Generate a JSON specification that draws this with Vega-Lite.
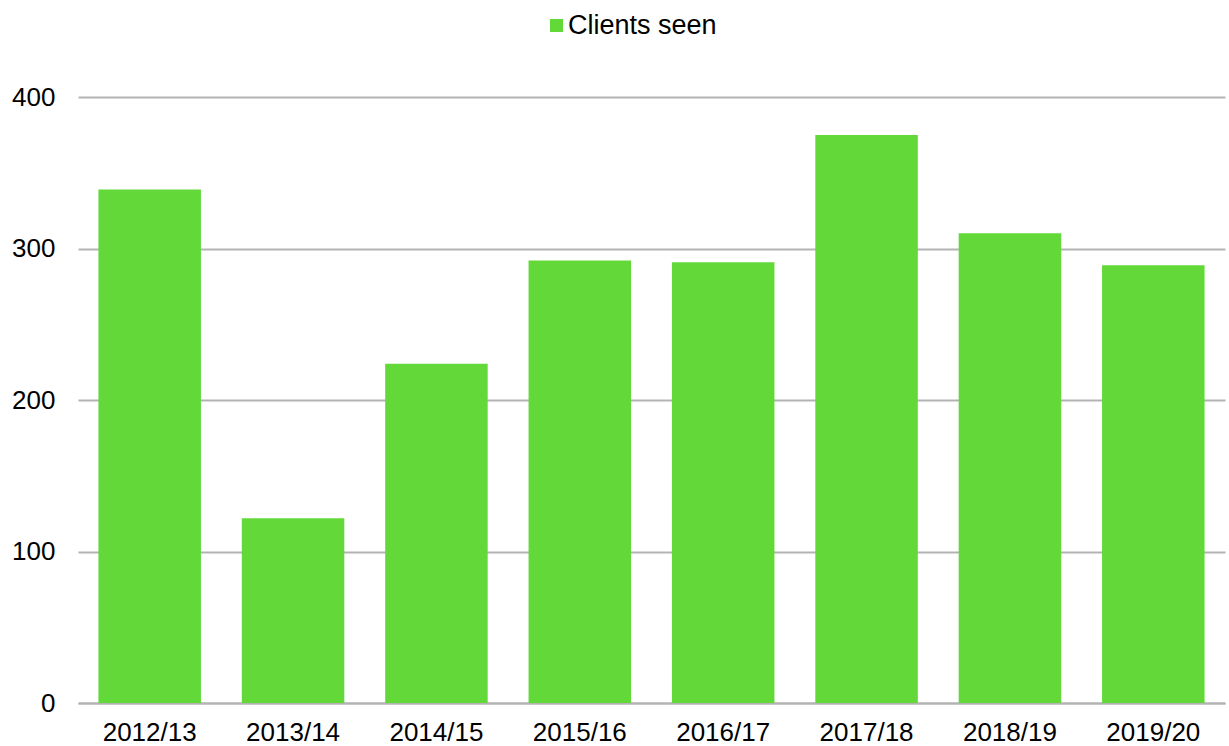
{
  "$schema": "https://vega.github.io/schema/vega-lite/v6.json",
  "autosize": {"type": "none"},
  "width": 1147,
  "height": 606,
  "padding": {"left": 78, "top": 97, "right": 4, "bottom": 43},
  "background": "white",
  "config": {
    "view": {"stroke": null},
    "font": "Liberation Sans"
  },
  "data": {
    "values": [
      {"year": "2012/13", "series": "Clients seen", "value": 339},
      {"year": "2013/14", "series": "Clients seen", "value": 122},
      {"year": "2014/15", "series": "Clients seen", "value": 224},
      {"year": "2015/16", "series": "Clients seen", "value": 292},
      {"year": "2016/17", "series": "Clients seen", "value": 291},
      {"year": "2017/18", "series": "Clients seen", "value": 375},
      {"year": "2018/19", "series": "Clients seen", "value": 310},
      {"year": "2019/20", "series": "Clients seen", "value": 289}
    ]
  },
  "mark": {"type": "bar"},
  "encoding": {
    "x": {
      "field": "year", "type": "nominal", "sort": null,
      "scale": {"paddingInner": 0.285, "paddingOuter": 0.1425},
      "axis": {"title": null, "labelAngle": 0, "ticks": false, "domain": true, "domainColor": "#b3b3b3", "domainWidth": 2, "labelPadding": 16, "labelBaseline": "top", "grid": false, "labelFont": "Liberation Sans", "labelFontSize": 26, "labelColor": "#000000"}
    },
    "y": {
      "field": "value", "type": "quantitative",
      "scale": {"domain": [0, 400], "nice": false},
      "axis": {"title": null, "values": [0, 100, 200, 300, 400], "ticks": false, "domain": false, "grid": true, "gridColor": "#b3b3b3", "gridWidth": 2, "labelPadding": 23, "labelFont": "Liberation Sans", "labelFontSize": 26, "labelColor": "#000000"}
    },
    "color": {
      "field": "series", "type": "nominal",
      "scale": {"range": ["#62d939"]},
      "legend": {
        "title": null, "orient": "none", "legendX": 465, "legendY": -85, "padding": 0,
        "symbolType": "square", "symbolSize": 169, "symbolStrokeWidth": 0, "symbolOpacity": 1,
        "labelFontSize": 27, "labelFont": "Liberation Sans", "labelColor": "#000000", "labelOffset": -2, "direction": "horizontal"
      }
    }
  }
}
